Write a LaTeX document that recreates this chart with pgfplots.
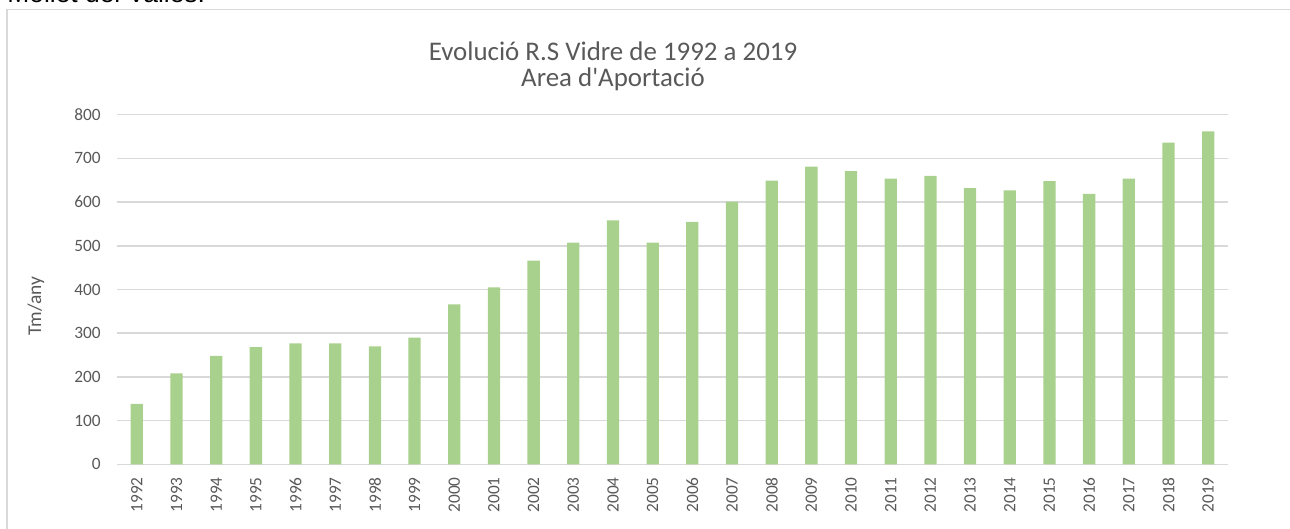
\documentclass[border=0pt]{standalone}
\usepackage{fontspec}
\setmainfont{Carlito}[Ligatures=TeXOff]
\newfontfamily\arialfont{Liberation Sans}
\usepackage{pgfplots}
\pgfplotsset{compat=1.18}
\definecolor{barg}{HTML}{A9D18E}
\definecolor{gridc}{HTML}{D9D9D9}
\definecolor{txt}{HTML}{595959}
\begin{document}
\begin{tikzpicture}
\useasboundingbox (0,0) rectangle (645pt,-264.5pt);
\begin{scope}
\clip (0,0) rectangle (645pt,-264.5pt);
\node[anchor=base west, inner sep=0pt, font=\arialfont\fontsize{13.2pt}{15pt}\selectfont] at (3.5pt,-1.5pt) {Mollet del Vallès.};
\end{scope}
\draw[gridc, line width=0.75pt] (3.5pt,-264.5pt) -- (3.5pt,-4.75pt) -- (645pt,-4.75pt);
\begin{axis}[
  at={(58.5pt,-232.15pt)}, anchor=south west,
  scale only axis, width=555.5pt, height=174.8pt,
  ybar, bar width=6.15pt,
  xmin=1991.5, xmax=2019.5, ymin=0, ymax=800,
  xtick={1992,1993,...,2019}, ytick={0,100,...,800},
  /pgf/number format/1000 sep={},
  /pgf/number format/assume math mode=true,
  axis line style={draw=none},
  major tick length=0pt,
  ymajorgrids, grid style={gridc, line width=0.75pt},
  yticklabel style={font=\fontsize{8.65pt}{10pt}\selectfont, text=txt, anchor=east, inner sep=0pt, xshift=-8pt},
  xticklabel style={font=\fontsize{8.65pt}{10pt}\selectfont, text=txt, yshift=-6.35pt, rotate=90, anchor=east, inner sep=0pt},
  clip=false,
]
\addplot[fill=barg, draw=none] coordinates {
(1992,138) (1993,208) (1994,248) (1995,268) (1996,277) (1997,277) (1998,270)
(1999,290) (2000,366) (2001,405) (2002,466) (2003,507) (2004,558) (2005,507)
(2006,555) (2007,601) (2008,649) (2009,681) (2010,671) (2011,654) (2012,660)
(2013,632) (2014,627) (2015,648) (2016,619) (2017,654) (2018,736) (2019,762)
};
\end{axis}
\node[anchor=base, inner sep=0pt, text=txt, font=\fontsize{13.45pt}{16pt}\selectfont] at (306.5pt,-30.5pt) {Evolució R.S Vidre de 1992 a 2019};
\node[anchor=base, inner sep=0pt, text=txt, font=\fontsize{13.45pt}{16pt}\selectfont] at (306.5pt,-43.5pt) {Area d'Aportació};
\node[rotate=90, inner sep=0pt, text=txt, font=\fontsize{9.75pt}{12pt}\selectfont] at (18pt,-153pt) {Tm/any};
\end{tikzpicture}
\end{document}
